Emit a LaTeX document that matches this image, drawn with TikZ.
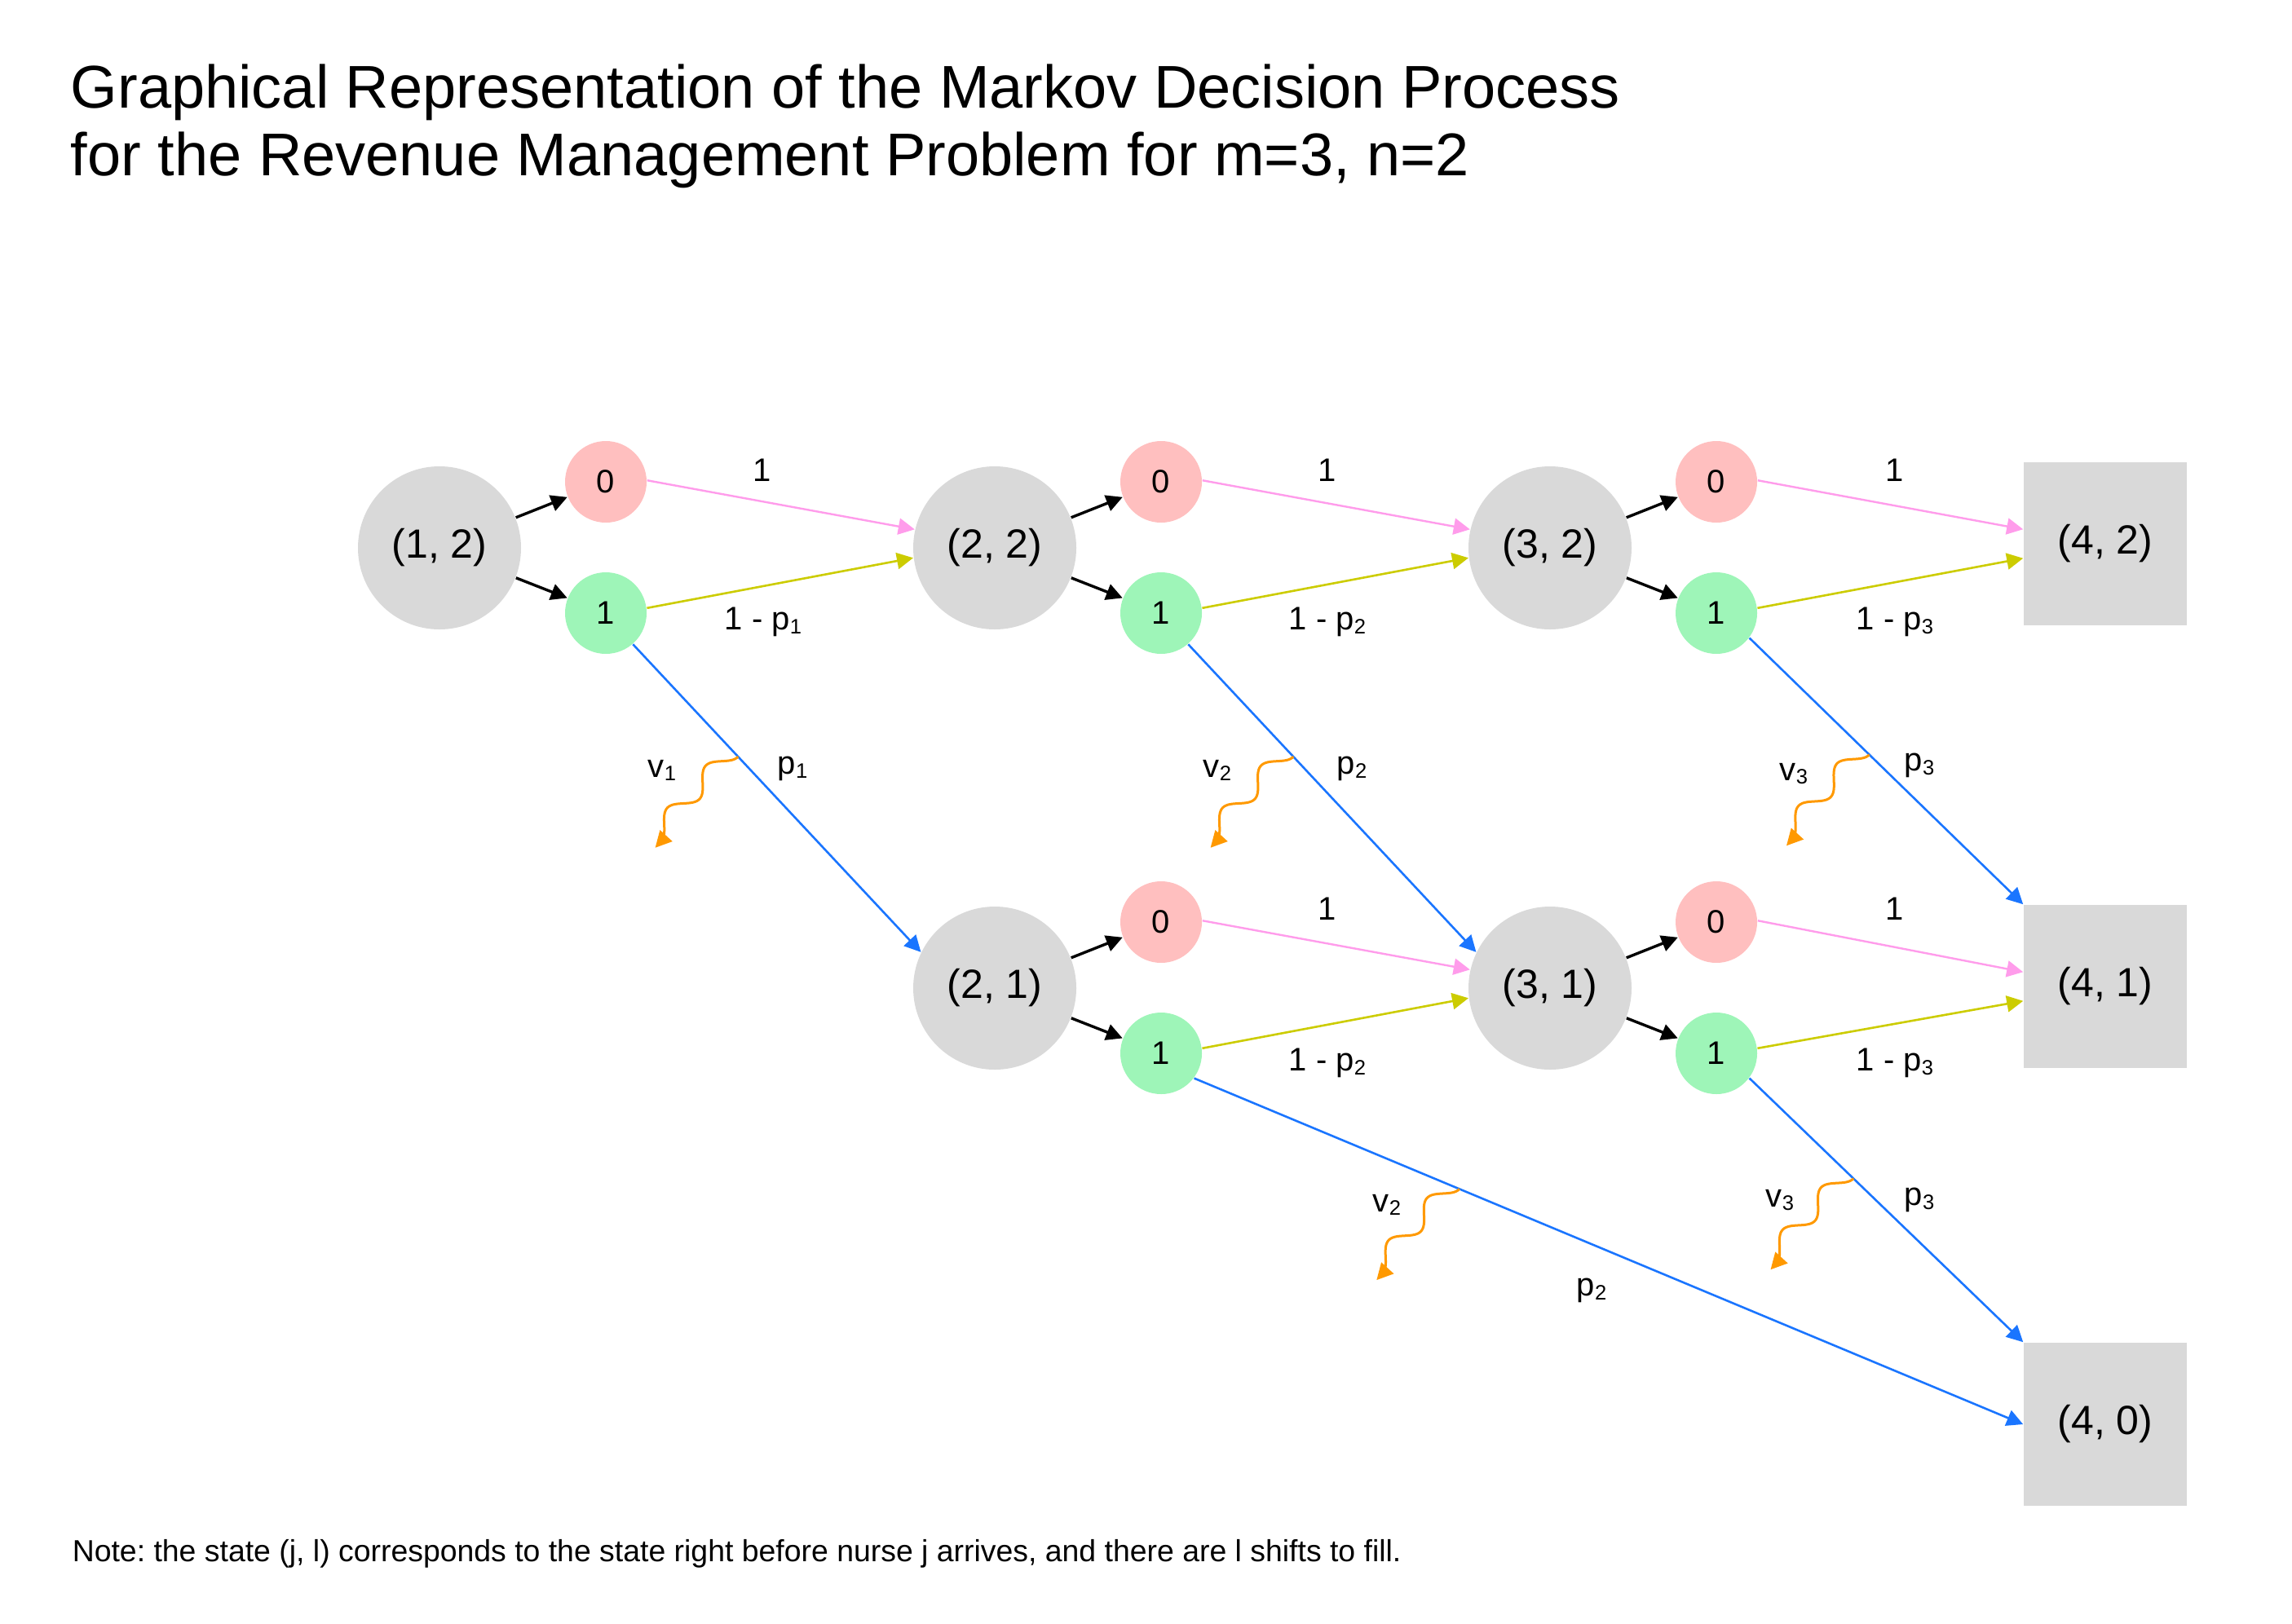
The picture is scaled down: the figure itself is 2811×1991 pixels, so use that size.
\documentclass[tikz,border=0pt]{standalone}
\usepackage{fontspec}
\setmainfont{Liberation Sans}
\usetikzlibrary{arrows.meta,calc}
\definecolor{graynode}{HTML}{D9D9D9}
\definecolor{pinknode}{HTML}{FFBFBF}
\definecolor{greennode}{HTML}{9EF5B8}
\definecolor{pinkline}{HTML}{FF9CEB}
\definecolor{yellowline}{HTML}{CCCC00}
\definecolor{blueline}{HTML}{1A75FF}
\definecolor{orangeline}{HTML}{FF9900}
\newcommand\sbsc[1]{\raisebox{-1.2pt}{\fontsize{6.4}{6.4}\selectfont #1}}
\frenchspacing
\begin{document}
\begin{tikzpicture}[x=0.25pt,y=-0.25pt,
  statenode/.style={circle, fill=graynode, minimum size=50pt, inner sep=0pt, font=\fontsize{12.5}{14}\selectfont},
  endnode/.style={rectangle, fill=graynode, minimum size=50pt, inner sep=0pt, font=\fontsize{12.5}{14}\selectfont},
  zeronode/.style={circle, fill=pinknode, minimum size=25pt, inner sep=0pt, font=\fontsize{10}{12}\selectfont},
  onenode/.style={circle, fill=greennode, minimum size=25pt, inner sep=0pt, font=\fontsize{10}{12}\selectfont},
  arrowtip/.style={-{Triangle[length=5pt,width=5pt]}},
  choiceedge/.style={arrowtip, draw=black, line width=0.85pt},
  rejedge/.style={arrowtip, draw=pinkline, line width=0.6pt},
  accedge/.style={arrowtip, draw=yellowline, line width=0.65pt},
  blueedge/.style={arrowtip, draw=blueline, line width=0.65pt},
  wiggle/.style={arrowtip, draw=orangeline, line width=0.75pt},
  lab/.style={font=\fontsize{10}{12}\selectfont, inner sep=0pt},
  titletext/.style={anchor=base west, inner sep=0pt, font=\fontsize{18.5}{20}\selectfont},
  notetext/.style={anchor=base west, inner sep=0pt, font=\fontsize{9.35}{11}\selectfont}
]
\useasboundingbox (0,0) rectangle (2811,1991);

% titles
\node[titletext] (title1) at (86,132) {Graphical Representation of the Markov Decision Process};
\node[titletext] (title2) at (86,215) {for the Revenue Management Problem for m=3, n=2};
\node[notetext] (note) at (88,1915) {Note: the state (j, l) corresponds to the state right before nurse j arrives, and there are l shifts to fill.};

% state nodes
\node[statenode] (s12) at (539,672) {(1, 2)};
\node[zeronode] (s12z) at (743,591) {0};
\node[onenode] (s12o) at (743,752) {1};
\node[statenode] (s22) at (1220,672) {(2, 2)};
\node[zeronode] (s22z) at (1424,591) {0};
\node[onenode] (s22o) at (1424,752) {1};
\node[statenode] (s32) at (1901,672) {(3, 2)};
\node[zeronode] (s32z) at (2105,591) {0};
\node[onenode] (s32o) at (2105,752) {1};
\node[endnode] (s42) at (2582,667) {(4, 2)};
\node[statenode] (s21) at (1220,1212) {(2, 1)};
\node[zeronode] (s21z) at (1424,1131) {0};
\node[onenode] (s21o) at (1424,1292) {1};
\node[statenode] (s31) at (1901,1212) {(3, 1)};
\node[zeronode] (s31z) at (2105,1131) {0};
\node[onenode] (s31o) at (2105,1292) {1};
\node[endnode] (s41) at (2582,1210) {(4, 1)};
\node[endnode] (s40) at (2582,1747) {(4, 0)};

% decisions
\draw[choiceedge] (s12) -- (s12z);
\draw[choiceedge] (s12) -- (s12o);
\draw[choiceedge] (s22) -- (s22z);
\draw[choiceedge] (s22) -- (s22o);
\draw[choiceedge] (s32) -- (s32z);
\draw[choiceedge] (s32) -- (s32o);
\draw[choiceedge] (s21) -- (s21z);
\draw[choiceedge] (s21) -- (s21o);
\draw[choiceedge] (s31) -- (s31z);
\draw[choiceedge] (s31) -- (s31o);

% reject (0) transitions
\draw[rejedge] (s12z.2) -- (s22.167);
\draw[rejedge] (s22z.2) -- (s32.167);
\draw[rejedge] (s32z.2) -- (s42.170);
\draw[rejedge] (s21z.2) -- (s31.167);
\draw[rejedge] (s31z.2) -- (s41.170);

% accept, no show
\draw[accedge] (s12o.7) -- (s22.187);
\draw[accedge] (s22o.7) -- (s32.187);
\draw[accedge] (s32o.7) -- (s42.190);
\draw[accedge] (s21o.7) -- (s31.187);
\draw[accedge] (s31o.7) -- (s41.190);

% accept, show
\draw[blueedge] (s12o.-49) -- coordinate[pos=0.365] (w1) (s21.154);
\draw[blueedge] (s22o.-49) -- coordinate[pos=0.365] (w2) (s31.154);
\draw[blueedge] (s32o.-37) -- coordinate[pos=0.438] (w3) (s41.north west);
\draw[blueedge] (s21o.-37) -- coordinate[pos=0.32] (w4) (s40.west);
\draw[blueedge] (s31o.-37) -- coordinate[pos=0.38] (w5) (s40.north west);

% rewards (wiggly arrows)
\draw[wiggle, shift={(w1)}] plot[domain=0:140, samples=60, smooth] ({-0.673*\x-8.14*(1-cos(5.1429*\x))}, {0.740*\x-7.40*(1-cos(5.1429*\x))}) -- ++(-7.4,8.1);
\draw[wiggle, shift={(w2)}] plot[domain=0:140, samples=60, smooth] ({-0.673*\x-8.14*(1-cos(5.1429*\x))}, {0.740*\x-7.40*(1-cos(5.1429*\x))}) -- ++(-7.4,8.1);
\draw[wiggle, shift={(w3)}] plot[domain=0:140, samples=60, smooth] ({-0.673*\x-8.14*(1-cos(5.1429*\x))}, {0.740*\x-7.40*(1-cos(5.1429*\x))}) -- ++(-7.4,8.1);
\draw[wiggle, shift={(w4)}] plot[domain=0:140, samples=60, smooth] ({-0.673*\x-8.14*(1-cos(5.1429*\x))}, {0.740*\x-7.40*(1-cos(5.1429*\x))}) -- ++(-7.4,8.1);
\draw[wiggle, shift={(w5)}] plot[domain=0:140, samples=60, smooth] ({-0.673*\x-8.14*(1-cos(5.1429*\x))}, {0.740*\x-7.40*(1-cos(5.1429*\x))}) -- ++(-7.4,8.1);

% edge labels
\node[lab] (lr1) at (935,577) {1};
\node[lab] (lr2) at (1628,577) {1};
\node[lab] (lr3) at (2324,577) {1};
\node[lab] (lr4) at (1628,1115) {1};
\node[lab] (lr5) at (2324,1115) {1};
\node[lab] (la1) at (936,763) {1 - p\sbsc{1}};
\node[lab] (la2) at (1628,763) {1 - p\sbsc{2}};
\node[lab] (la3) at (2324,763) {1 - p\sbsc{3}};
\node[lab] (la4) at (1628,1304) {1 - p\sbsc{2}};
\node[lab] (la5) at (2324,1304) {1 - p\sbsc{3}};
\node[lab] (lv1) at (812,945) {v\sbsc{1}};
\node[lab] (lp1) at (972,943) {p\sbsc{1}};
\node[lab] (lv2) at (1493,945) {v\sbsc{2}};
\node[lab] (lp2) at (1658,943) {p\sbsc{2}};
\node[lab] (lv3) at (2200,949) {v\sbsc{3}};
\node[lab] (lp3) at (2354,939) {p\sbsc{3}};
\node[lab] (lv4) at (1701,1478) {v\sbsc{2}};
\node[lab] (lp4) at (1952,1583) {p\sbsc{2}};
\node[lab] (lv5) at (2183,1472) {v\sbsc{3}};
\node[lab] (lp5) at (2354,1472) {p\sbsc{3}};
\end{tikzpicture}
\end{document}
